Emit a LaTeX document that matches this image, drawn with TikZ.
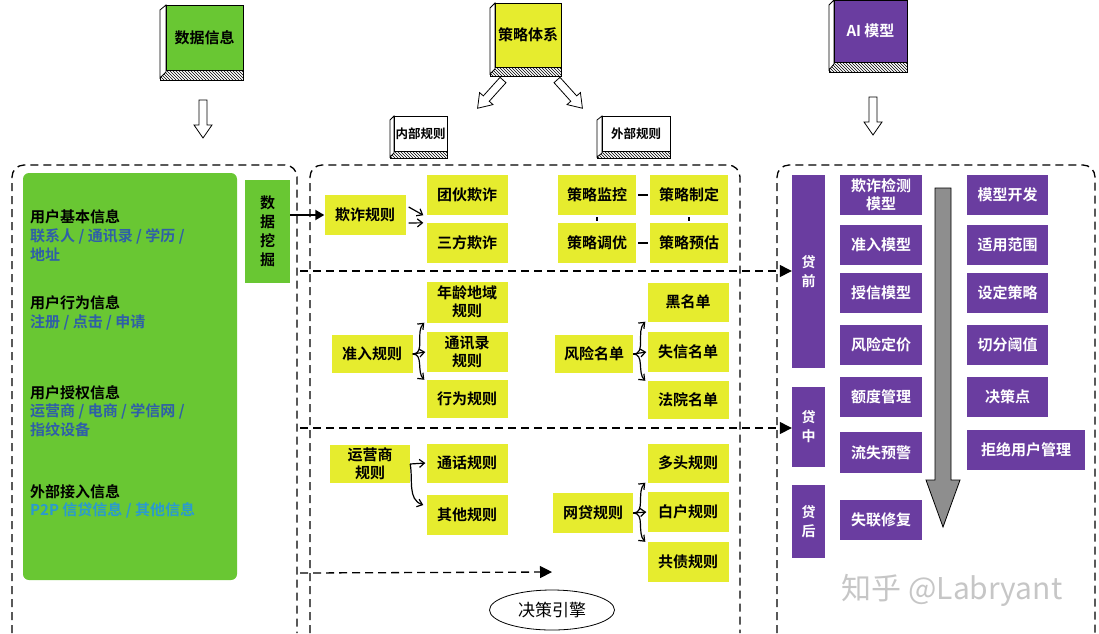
\documentclass[tikz,border=0pt]{standalone}
\usepackage{fontspec}
\setmainfont{Noto Sans CJK SC}[BoldFont={Noto Sans CJK SC Bold}]
\usetikzlibrary{arrows.meta,patterns,shapes.geometric}

\definecolor{datagreen}{HTML}{69C733}
\definecolor{ruleyellow}{HTML}{E6EC2E}
\definecolor{aipurple}{HTML}{6A3DA0}
\definecolor{infoblue}{HTML}{2F5FA8}
\definecolor{infocyan}{HTML}{2A9AD0}
\definecolor{bararrow}{HTML}{8E8E8E}

\tikzset{
  pics/fatarrow/.style={code={
    \draw[thick,fill=white] (-4,0) -- (4,0) -- (4,25) -- (9,25) -- (0,38) -- (-9,25) -- (-4,25) -- cycle;}},
}

\begin{document}
\begin{tikzpicture}[x=1pt,y=-1pt,
  every node/.style={font=\bfseries\fontsize{15}{18}\selectfont,inner sep=0pt},
  face/.style={draw,thick,align=center},
  rulebox/.style={fill=ruleyellow,minimum width=81pt,minimum height=40pt,align=center},
  modelbox/.style={fill=aipurple,text=white,minimum width=82pt,minimum height=40pt,align=center},
  stagebar/.style={fill=aipurple,text=white,minimum width=33pt,align=center,font=\bfseries\fontsize{14}{19}\selectfont},
  infohead/.style={anchor=west},
  infoitem/.style={anchor=west,text=infoblue},
  panel/.style={line width=1.3pt,dash pattern=on 8pt off 5pt,rounded corners=12pt},
  split/.style={line width=1.3pt,dash pattern=on 8pt off 5pt,-{Triangle[length=12pt,width=12pt]}},
  link/.style={line width=1.2pt,-{Straight Barb[length=5pt,width=8pt]}},
  tie/.style={line width=1.5pt},
]
\useasboundingbox (0,0) rectangle (1099,633);

% three books on top
\draw[thick,pattern=north west lines] (160,70) rectangle (243,80);
\draw[thick,fill=white] (160,10) -- (166,5) -- (166,72) -- (160,78) -- cycle;
\node[face,fill=datagreen,minimum width=77pt,minimum height=65pt] (data) at (204.5,37.5) {数据信息};

\draw[thick,pattern=north west lines] (490,67) rectangle (561,76);
\draw[thick,fill=white] (490,8) -- (495,3) -- (495,69) -- (490,74) -- cycle;
\node[face,fill=ruleyellow,minimum width=66pt,minimum height=64pt] (strategy) at (528,35) {策略体系};

\draw[thick,pattern=north west lines] (829,62) rectangle (907,72);
\draw[thick,fill=white] (829,5) -- (834,0) -- (834,64) -- (829,70) -- cycle;
\node[face,fill=aipurple,text=white,minimum width=73pt,minimum height=62pt] (aimodel) at (870.5,31) {AI 模型};

\pic at (203,100) {fatarrow};
\pic[rotate=-42] at (503,80) {fatarrow};
\pic[rotate=42] at (557,80) {fatarrow};
\pic at (873,97) {fatarrow};

% inner / outer rules
\draw[thick,pattern=north west lines] (390,151) rectangle (447,158);
\draw[thick,fill=white] (390,120) -- (394,116) -- (394,153) -- (390,157) -- cycle;
\node[face,fill=white,minimum width=53pt,minimum height=35pt,font=\bfseries\fontsize{12.5}{14}\selectfont] (inner) at (420.5,133.5) {内部规则};
\draw[thick,pattern=north west lines] (597,151) rectangle (670,158);
\draw[thick,fill=white] (597,120) -- (602,116) -- (602,153) -- (597,157) -- cycle;
\node[face,fill=white,minimum width=68pt,minimum height=35pt,font=\bfseries\fontsize{12.5}{14}\selectfont] (outer) at (636,133.5) {外部规则};

% dashed panels
\draw[panel] (12,633) -- (12,165) -- (297,165) -- (297,633);
\draw[panel] (310,633) -- (310,165) -- (740,165) -- (740,633);
\draw[panel] (777,633) -- (777,165) -- (1095,165) -- (1095,633);

% data information
\node[fill=datagreen,minimum width=214pt,minimum height=407pt,rounded corners=6pt] (userinfo) at (130,376.5) {};
\node[infohead] (basic) at (30,217) {用户基本信息};
\node[infoitem] (basica) at (30,236) {联系人 / 通讯录 / 学历 /};
\node[infoitem] (basicb) at (30,255) {地址};
\node[infohead] (behave) at (30,303) {用户行为信息};
\node[infoitem] (behavea) at (30,322) {注册 / 点击 / 申请};
\node[infohead] (grant) at (30,393) {用户授权信息};
\node[infoitem] (granta) at (30,411) {运营商 / 电商 / 学信网 /};
\node[infoitem] (grantb) at (30,430) {指纹设备};
\node[infohead] (extern) at (30,492) {外部接入信息};
\node[infoitem,text=infocyan] (externa) at (30,510) {P2P 信贷信息 / 其他信息};
\node[fill=datagreen,minimum width=45pt,minimum height=103pt,align=center,font=\bfseries\fontsize{15}{19}\selectfont] (mining) at (267.5,231.5) {数\\据\\挖\\掘};

% strategy system
\node[rulebox] (fraud) at (365,215) {欺诈规则};
\node[rulebox] (gang) at (467,195) {团伙欺诈};
\node[rulebox] (third) at (467,243) {三方欺诈};
\node[rulebox,minimum width=78pt] (watch) at (597,195) {策略监控};
\node[rulebox,minimum width=78pt] (make) at (689,195) {策略制定};
\node[rulebox,minimum width=78pt] (tune) at (597,243) {策略调优};
\node[rulebox,minimum width=78pt] (guess) at (689,243) {策略预估};

\node[rulebox,minimum height=38pt] (access) at (372,354) {准入规则};
\node[rulebox,minimum height=41pt] (agearea) at (467,302) {年龄地域\\规则};
\node[rulebox] (contact) at (467,352) {通讯录\\规则};
\node[rulebox,minimum height=38pt] (action) at (467,399) {行为规则};
\node[rulebox,minimum width=78pt,minimum height=38pt] (risklist) at (594,354) {风险名单};
\node[rulebox,minimum height=39pt] (black) at (688,302) {黑名单};
\node[rulebox] (dishonest) at (688,352) {失信名单};
\node[rulebox,minimum height=38pt] (court) at (688,400) {法院名单};

\node[rulebox,minimum width=80pt,minimum height=38pt] (carrier) at (370,464) {运营商\\规则};
\node[rulebox,minimum height=39pt] (call) at (467,463) {通话规则};
\node[rulebox] (other) at (467,515) {其他规则};
\node[rulebox,minimum width=80pt] (p2p) at (593,513) {网贷规则};
\node[rulebox,minimum height=39pt] (multi) at (688,463) {多头规则};
\node[rulebox] (blank) at (688,512) {白户规则};
\node[rulebox] (debt) at (688,562) {共债规则};

\node[draw,thick,ellipse,minimum width=125pt,minimum height=40pt,font=\fontsize{17}{19}\selectfont] (engine) at (552,610) {决策引擎};

% AI models
\node[stagebar,minimum height=193pt] (preloan) at (808.5,271.5) {贷\\前};
\node[stagebar,minimum height=80pt] (midloan) at (808.5,427) {贷\\中};
\node[stagebar,minimum height=73pt] (postloan) at (808.5,521.5) {贷\\后};

\node[modelbox] (fraudmodel) at (881,195) {欺诈检测\\模型};
\node[modelbox] (accessmodel) at (881,245) {准入模型};
\node[modelbox] (creditmodel) at (881,293) {授信模型};
\node[modelbox] (pricing) at (881,345) {风险定价};
\node[modelbox] (quota) at (881,397) {额度管理};
\node[modelbox,minimum height=41pt] (churn) at (881,452.5) {流失预警};
\node[modelbox] (lost) at (881,520) {失联修复};

\node[modelbox,minimum width=81pt] (develop) at (1007.5,195) {模型开发};
\node[modelbox,minimum width=81pt] (scope) at (1007.5,245) {适用范围};
\node[modelbox,minimum width=81pt] (setrule) at (1007.5,293) {设定策略};
\node[modelbox,minimum width=81pt] (cutoff) at (1007.5,345) {切分阈值};
\node[modelbox,minimum width=81pt] (point) at (1007.5,397) {决策点};
\node[modelbox,minimum width=118pt] (reject) at (1026,450) {拒绝用户管理};

\draw[thick,fill=bararrow] (935,188) -- (951,188) -- (951,480) -- (960,480) -- (943,527) -- (926,480) -- (935,480) -- cycle;

\node[font=\fontsize{30}{32}\selectfont,text=gray!45] (mark) at (952,590) {知乎 @Labryant};

% connectors
\draw[line width=2pt,-{Triangle[length=9pt,width=10pt]}] (mining.east |- fraud.west) -- (fraud.west);
\draw[link] ([shift={(3,-8)}]fraud.east) -- ([xshift=-3pt]gang.south west);
\draw[link] ([shift={(3,8)}]fraud.east) -- ([xshift=-3pt]third.north west);
\draw[tie,shorten <=2pt,shorten >=2pt] (watch) -- (make);
\draw[tie,shorten <=2pt,shorten >=2pt] (tune) -- (guess);
\draw[tie,shorten <=2pt,shorten >=2pt] (watch) -- (tune);
\draw[tie,shorten <=2pt,shorten >=2pt] (make) -- (guess);

\draw[link] (access.east) to[out=0,in=225] ([xshift=-2pt]agearea.south west);
\draw[link] (access.east) -- ([xshift=-1pt]contact.west);
\draw[link] (access.east) to[out=0,in=135] ([xshift=-2pt]action.north west);
\draw[link] (risklist.east) to[out=0,in=225] ([xshift=-2pt]black.south west);
\draw[link] (risklist.east) -- ([xshift=-1pt]dishonest.west);
\draw[link] (risklist.east) to[out=0,in=135] ([xshift=-2pt]court.north west);

\draw[link] (carrier.east) -- ([xshift=-1pt]call.west);
\draw[link] (carrier.east) to[out=-80,in=160] ([shift={(-3pt,10pt)}]other.west);
\draw[link] (p2p.east) to[out=0,in=225] ([xshift=-2pt]multi.south west);
\draw[link] (p2p.east) -- ([xshift=-1pt]blank.west);
\draw[link] (p2p.east) to[out=0,in=135] ([xshift=-2pt]debt.north west);

\coordinate (cutA) at (300,271);
\coordinate (cutB) at (300,428);
\coordinate (cutC) at (300,573);
\coordinate (toengine) at (552,572);
\draw[split] (cutA) -- (preloan.west |- cutA);
\draw[split] (cutB) -- (midloan.west |- cutB);
\draw[split] (cutC) -- (toengine);
\end{tikzpicture}
\end{document}
